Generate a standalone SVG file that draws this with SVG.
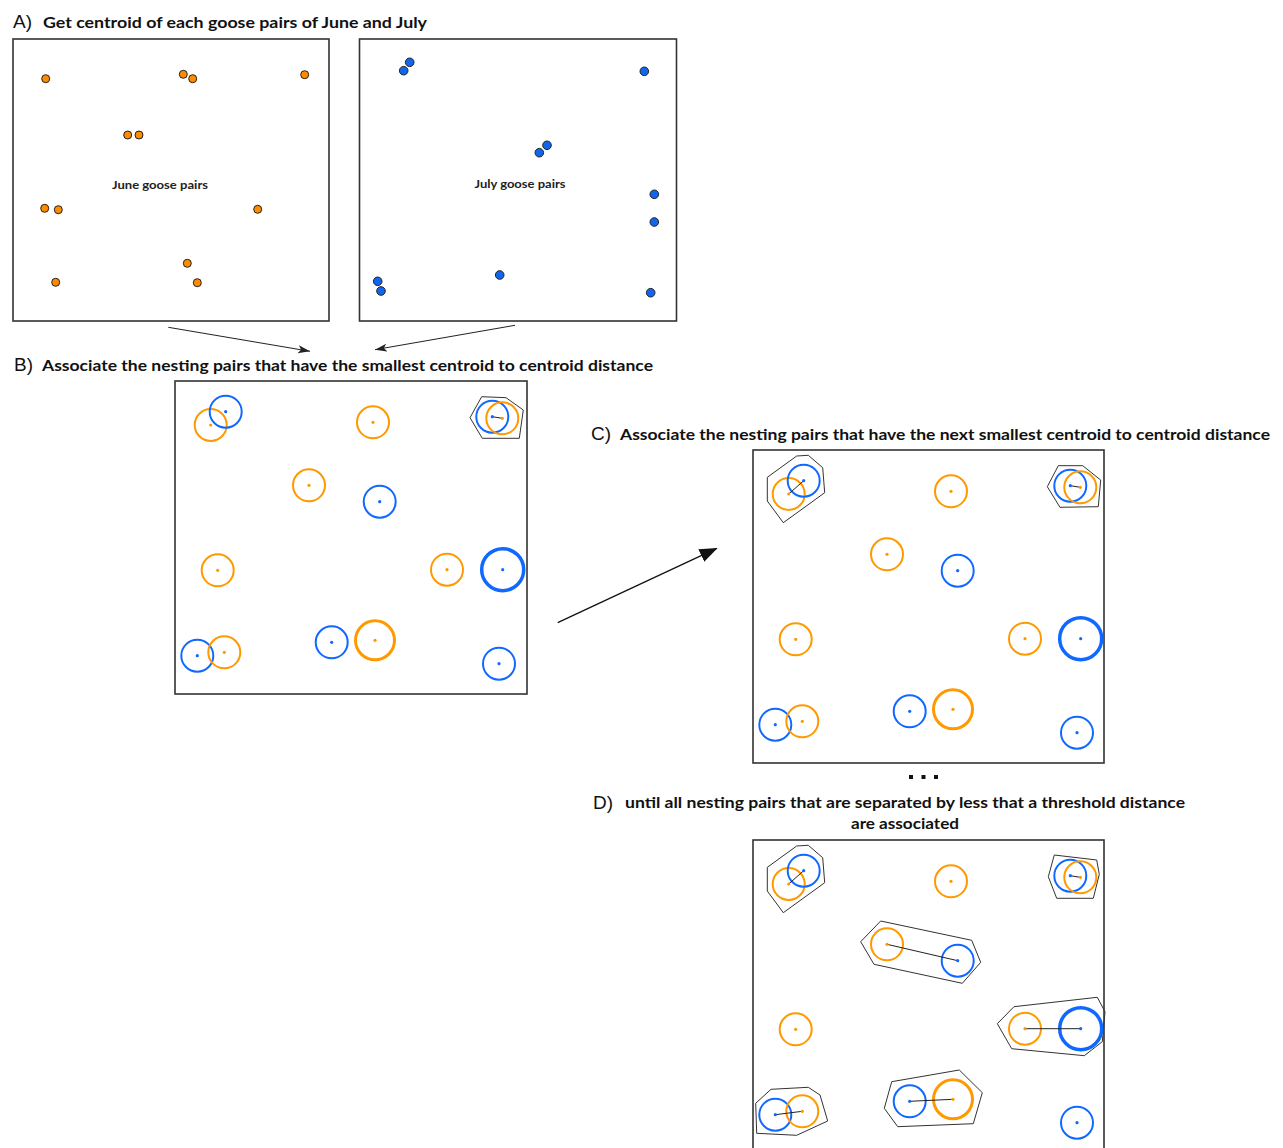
<svg xmlns="http://www.w3.org/2000/svg" xmlns:xlink="http://www.w3.org/1999/xlink" width="1283" height="1148" viewBox="0 0 1283 1148">
<style>
.frame{fill:none;stroke:#333;stroke-width:1.6}
.o{fill:none;stroke:#ff9900;stroke-width:2}
.b{fill:none;stroke:#0f68ff;stroke-width:2}
.ob{stroke-width:3}
.bb{stroke-width:3.5}
.od{fill:#ff9900}
.bd{fill:#0f68ff}
.hull{fill:none;stroke:#333;stroke-width:1}
.link{stroke:#222;stroke-width:1}
.dO{fill:#ff8c00;stroke:#222;stroke-width:1}
.dB{fill:#1166ee;stroke:#222;stroke-width:1}
.pre{font-family:"Liberation Sans",Arial,sans-serif;font-size:19px;fill:#111}
.ttl{font-family:Lato,"Liberation Sans",sans-serif;font-weight:700;font-size:15.5px;fill:#111}
.lbl{font-family:Lato,"Liberation Sans",sans-serif;font-weight:700;font-size:11px;fill:#222}
.arr{stroke:#222;stroke-width:1;fill:none}
</style>
<defs>
<marker id="ah" markerUnits="userSpaceOnUse" markerWidth="14" markerHeight="10" refX="12" refY="4" orient="auto"><path d="M0,0 L12,4 L0,8 L3,4 Z" fill="#222"/></marker>
<marker id="ahBig" markerUnits="userSpaceOnUse" markerWidth="20" markerHeight="16" refX="17" refY="7" orient="auto"><path d="M0,0 L18,7 L0,14 Z" fill="#111"/></marker>
</defs>

<!-- Titles -->
<g id="titleA"><text class="pre" x="13" y="28">A)</text><text class="ttl" x="43" y="28" textLength="384" lengthAdjust="spacingAndGlyphs">Get centroid of each goose pairs of June and July</text></g>
<g id="titleB"><text class="pre" x="14" y="371">B)</text><text class="ttl" x="42" y="371" textLength="611" lengthAdjust="spacingAndGlyphs">Associate the nesting pairs that have the smallest centroid to centroid distance</text></g>
<g id="titleC"><text class="pre" x="591" y="440">C)</text><text class="ttl" x="620" y="440" textLength="650" lengthAdjust="spacingAndGlyphs">Associate the nesting pairs that have the next smallest centroid to centroid distance</text></g>
<g id="ellipsis" fill="#111"><rect x="909" y="775" width="4" height="4"/><rect x="921.5" y="775" width="4" height="4"/><rect x="934" y="775" width="4" height="4"/></g>
<g id="titleD"><text class="pre" x="593" y="809">D)</text><text class="ttl" x="625" y="808" textLength="560" lengthAdjust="spacingAndGlyphs">until all nesting pairs that are separated by less that a threshold distance</text><text class="ttl" x="851" y="829" textLength="108" lengthAdjust="spacingAndGlyphs">are associated</text></g>

<!-- Panel A June -->
<g id="panelA-june">
<rect class="frame" x="13" y="39" width="316" height="282"/>
<circle class="dO" cx="45.7" cy="78.7" r="4"/>
<circle class="dO" cx="183.3" cy="74.3" r="4"/>
<circle class="dO" cx="192.7" cy="78.7" r="4"/>
<circle class="dO" cx="304.7" cy="74.7" r="4"/>
<circle class="dO" cx="127.7" cy="135" r="4"/>
<circle class="dO" cx="139" cy="135" r="4"/>
<circle class="dO" cx="44.7" cy="208.3" r="4"/>
<circle class="dO" cx="58.3" cy="209.7" r="4"/>
<circle class="dO" cx="257.7" cy="209.3" r="4"/>
<circle class="dO" cx="187.3" cy="263.3" r="4"/>
<circle class="dO" cx="55.7" cy="282.3" r="4"/>
<circle class="dO" cx="197.3" cy="282.7" r="4"/>
<text class="lbl" x="112" y="189" textLength="96" lengthAdjust="spacingAndGlyphs">June goose pairs</text>
</g>

<!-- Panel A July -->
<g id="panelA-july">
<rect class="frame" x="359.5" y="39" width="317" height="282"/>
<circle class="dB" cx="409.7" cy="62.3" r="4.3"/>
<circle class="dB" cx="403.7" cy="70.7" r="4.3"/>
<circle class="dB" cx="644.3" cy="71.3" r="4.3"/>
<circle class="dB" cx="547" cy="145.3" r="4.3"/>
<circle class="dB" cx="539.3" cy="152.7" r="4.3"/>
<circle class="dB" cx="654.3" cy="194.3" r="4.3"/>
<circle class="dB" cx="654.3" cy="222" r="4.3"/>
<circle class="dB" cx="377.7" cy="281.3" r="4.3"/>
<circle class="dB" cx="381" cy="291" r="4.3"/>
<circle class="dB" cx="499.7" cy="275" r="4.3"/>
<circle class="dB" cx="650.7" cy="292.7" r="4.3"/>
<text class="lbl" x="474.5" y="187.7" textLength="91" lengthAdjust="spacingAndGlyphs">July goose pairs</text>
</g>

<!-- Connectors -->
<g id="connectors">
<line class="arr" x1="168.3" y1="327.3" x2="310" y2="351.3" marker-end="url(#ah)"/>
<line class="arr" x1="515" y1="325.3" x2="375" y2="349.7" marker-end="url(#ah)"/>
<line x1="557.7" y1="622.7" x2="716.7" y2="548.3" stroke="#111" stroke-width="1.3" marker-end="url(#ahBig)"/>
</g>

<!-- Panel B -->
<g id="panelB" transform="translate(175,381)">
<rect class="frame" x="0" y="0" width="352" height="313"/>
<circle class="o" cx="35.7" cy="44" r="16"/><circle class="od" cx="35.7" cy="44" r="1.6"/>
<circle class="b" cx="50.7" cy="30.7" r="16"/><circle class="bd" cx="50.7" cy="30.7" r="1.6"/>
<circle class="o" cx="198" cy="41.3" r="16"/><circle class="od" cx="198" cy="41.3" r="1.6"/>
<polygon class="hull" points="306.7,15.7 331,16.7 348.3,29 344.3,57.3 307.3,57.3 295,36.7"/>
<circle class="b" cx="317.3" cy="35.7" r="16"/>
<circle class="o" cx="327.3" cy="37.3" r="16"/>
<line class="link" x1="317.3" y1="35.7" x2="327.3" y2="37.3"/>
<circle class="bd" cx="317.3" cy="35.7" r="1.6"/><circle class="od" cx="327.3" cy="37.3" r="1.6"/>
<circle class="o" cx="134" cy="104.3" r="16"/><circle class="od" cx="134" cy="104.3" r="1.6"/>
<circle class="b" cx="204.7" cy="120.7" r="16"/><circle class="bd" cx="204.7" cy="120.7" r="1.6"/>
<circle class="o" cx="42.7" cy="189.3" r="16"/><circle class="od" cx="42.7" cy="189.3" r="1.6"/>
<circle class="o" cx="272" cy="188.7" r="16"/><circle class="od" cx="272" cy="188.7" r="1.6"/>
<circle class="b bb" cx="327.7" cy="188.7" r="21"/><circle class="bd" cx="327.7" cy="188.7" r="1.6"/>
<circle class="b" cx="22.3" cy="274.7" r="16"/><circle class="bd" cx="22.3" cy="274.7" r="1.6"/>
<circle class="o" cx="49.3" cy="271.3" r="16"/><circle class="od" cx="49.3" cy="271.3" r="1.6"/>
<circle class="b" cx="156.7" cy="261.3" r="16"/><circle class="bd" cx="156.7" cy="261.3" r="1.6"/>
<circle class="o ob" cx="200" cy="259.3" r="19.5"/><circle class="od" cx="200" cy="259.3" r="1.6"/>
<circle class="b" cx="324" cy="282.7" r="16"/><circle class="bd" cx="324" cy="282.7" r="1.6"/>
</g>

<!-- Panel C -->
<g id="panelC" transform="translate(753,450)">
<rect class="frame" x="0" y="0" width="351" height="313"/>
<polygon class="hull" points="14.3,27.3 43.7,6 55.3,5.3 69.7,17.7 71.7,42.7 30.3,72.7 14.3,51"/>
<circle class="o" cx="35.7" cy="44" r="16"/>
<circle class="b" cx="50.7" cy="30.7" r="16"/>
<line class="link" x1="35.7" y1="44" x2="50.7" y2="30.7"/>
<circle class="od" cx="35.7" cy="44" r="1.6"/><circle class="bd" cx="50.7" cy="30.7" r="1.6"/>
<circle class="o" cx="198" cy="41.3" r="16"/><circle class="od" cx="198" cy="41.3" r="1.6"/>
<polygon class="hull" points="305.3,15.7 329.7,15.7 347.7,30 345.3,56.7 307,57.3 294.3,36.7"/>
<circle class="b" cx="317.3" cy="35.7" r="16"/>
<circle class="o" cx="327.3" cy="37.3" r="16"/>
<line class="link" x1="317.3" y1="35.7" x2="327.3" y2="37.3"/>
<circle class="bd" cx="317.3" cy="35.7" r="1.6"/><circle class="od" cx="327.3" cy="37.3" r="1.6"/>
<circle class="o" cx="134" cy="104.3" r="16"/><circle class="od" cx="134" cy="104.3" r="1.6"/>
<circle class="b" cx="204.7" cy="120.7" r="16"/><circle class="bd" cx="204.7" cy="120.7" r="1.6"/>
<circle class="o" cx="42.7" cy="189.3" r="16"/><circle class="od" cx="42.7" cy="189.3" r="1.6"/>
<circle class="o" cx="272" cy="188.7" r="16"/><circle class="od" cx="272" cy="188.7" r="1.6"/>
<circle class="b bb" cx="327.7" cy="188.7" r="21"/><circle class="bd" cx="327.7" cy="188.7" r="1.6"/>
<circle class="b" cx="22.3" cy="274.7" r="16"/><circle class="bd" cx="22.3" cy="274.7" r="1.6"/>
<circle class="o" cx="49.3" cy="271.3" r="16"/><circle class="od" cx="49.3" cy="271.3" r="1.6"/>
<circle class="b" cx="156.7" cy="261.3" r="16"/><circle class="bd" cx="156.7" cy="261.3" r="1.6"/>
<circle class="o ob" cx="200" cy="259.3" r="19.5"/><circle class="od" cx="200" cy="259.3" r="1.6"/>
<circle class="b" cx="324" cy="282.7" r="16"/><circle class="bd" cx="324" cy="282.7" r="1.6"/>
</g>

<!-- Panel D -->
<g id="panelD" transform="translate(753,840)">
<rect class="frame" x="0" y="0" width="351" height="313"/>
<polygon class="hull" points="14.3,27.3 43.7,6 55.3,5.3 69.7,17.7 71.7,42.7 30.3,72.7 14.3,51"/>
<circle class="o" cx="35.7" cy="44" r="16"/>
<circle class="b" cx="50.7" cy="30.7" r="16"/>
<line class="link" x1="35.7" y1="44" x2="50.7" y2="30.7"/>
<circle class="od" cx="35.7" cy="44" r="1.6"/><circle class="bd" cx="50.7" cy="30.7" r="1.6"/>
<circle class="o" cx="198" cy="41.3" r="16"/><circle class="od" cx="198" cy="41.3" r="1.6"/>
<polygon class="hull" points="301.3,15 343.7,20 346.3,34.3 340.3,58.3 303.7,58.3 295.3,36.7"/>
<circle class="b" cx="317.3" cy="35.7" r="16"/>
<circle class="o" cx="327.3" cy="37.3" r="16"/>
<line class="link" x1="317.3" y1="35.7" x2="327.3" y2="37.3"/>
<circle class="bd" cx="317.3" cy="35.7" r="1.6"/><circle class="od" cx="327.3" cy="37.3" r="1.6"/>
<polygon class="hull" points="127.7,81 218.7,100.3 227.7,122.3 209.3,143.3 121,124.3 107.7,101.7"/>
<circle class="o" cx="134" cy="104.3" r="16"/>
<circle class="b" cx="204.7" cy="120.7" r="16"/>
<line class="link" x1="134" y1="104.3" x2="204.7" y2="120.7"/>
<circle class="od" cx="134" cy="104.3" r="1.6"/><circle class="bd" cx="204.7" cy="120.7" r="1.6"/>
<circle class="o" cx="42.7" cy="189.3" r="16"/><circle class="od" cx="42.7" cy="189.3" r="1.6"/>
<polygon class="hull" points="261,166.7 344.3,157.3 352,171.7 349.3,201.7 331.3,215.7 258.7,208.7 244.3,183.7"/>
<circle class="o" cx="272" cy="188.7" r="16"/>
<circle class="b bb" cx="327.7" cy="188.7" r="21"/>
<line class="link" x1="272" y1="188.7" x2="327.7" y2="188.7"/>
<circle class="od" cx="272" cy="188.7" r="1.6"/><circle class="bd" cx="327.7" cy="188.7" r="1.6"/>
<polygon class="hull" points="18,249.3 55.3,247.3 67,255 74.7,281 43.7,295.3 3.7,293.3 2.7,263.3"/>
<circle class="b" cx="22.3" cy="274.7" r="16"/>
<circle class="o" cx="49.3" cy="271.3" r="16"/>
<line class="link" x1="22.3" y1="274.7" x2="49.3" y2="271.3"/>
<circle class="bd" cx="22.3" cy="274.7" r="1.6"/><circle class="od" cx="49.3" cy="271.3" r="1.6"/>
<polygon class="hull" points="138.7,241.7 206.3,230 229.3,252.7 220.3,283.7 144.7,286.7 131.3,268.3"/>
<circle class="b" cx="156.7" cy="261.3" r="16"/>
<circle class="o ob" cx="200" cy="259.3" r="19.5"/>
<line class="link" x1="156.7" y1="261.3" x2="200" y2="259.3"/>
<circle class="bd" cx="156.7" cy="261.3" r="1.6"/><circle class="od" cx="200" cy="259.3" r="1.6"/>
<circle class="b" cx="324" cy="282.7" r="16"/><circle class="bd" cx="324" cy="282.7" r="1.6"/>
</g>
</svg>
